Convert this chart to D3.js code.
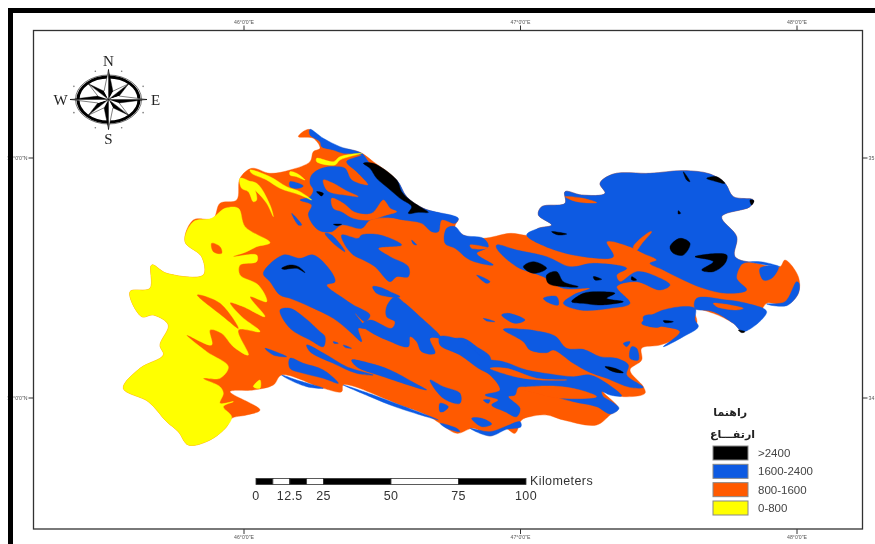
<!DOCTYPE html>
<html>
<head>
<meta charset="utf-8">
<script src="https://cdn.jsdelivr.net/npm/d3@7"></script>
<style>
  html, body { margin: 0; padding: 0; background: #fff; overflow: hidden; }
  svg { display: block; }
</style>
</head>
<body>
<script>
// ticks of the map frame
const lonTicks = [46, 47, 48];
const latTicks = [34, 35];
const lonLabels = ["46°0'0\"E", "47°0'0\"E", "48°0'0\"E"];
const latLabels = ["34°0'0\"N", "35°0'0\"N"];
const latLabelsRight = ["34", "35"]; // the sheet is cut off right after these

// legend
const classLabels = [">2400", "1600-2400", "800-1600", "0-800"];
const classColors = ["#000000", "#0a5ae2", "#ff5a00", "#ffff00"];

// scale bar
const barBreaks = [0, 6.25, 12.5, 18.75, 25, 50, 75, 100];
const barLabels = [0, 12.5, 25, 50, 75, 100];

// compass
const cardinals = [["N", 0], ["E", 90], ["S", 180], ["W", 270]];
const intercardinals = [45, 135, 225, 315];
const compassDots = [20, 64, 116, 160, 200, 244, 296, 340];

// elevation zones in grid units (gridX / gridY turn them into lon / lat)
const province = [[[597,28],[640,65],[700,85],[750,97],[790,125],[860,180],[890,230],[940,265],[1040,293],[1045,298],[1035,320],[1060,345],[1120,355],[1200,340],[1260,345],[1285,325],[1325,315],[1285,285],[1295,260],[1365,250],[1365,215],[1415,225],[1485,220],[1470,190],[1510,162],[1620,160],[1720,152],[1800,162],[1845,190],[1870,230],[1930,240],[1920,260],[1835,290],[1880,350],[1875,410],[1940,430],[2010,440],[2025,420],[2065,470],[2065,520],[2030,555],[1970,550],[1950,580],[1900,635],[1870,610],[1810,580],[1755,570],[1760,610],[1710,650],[1650,675],[1595,685],[1595,720],[1560,750],[1600,800],[1605,820],[1540,830],[1480,815],[1525,865],[1500,885],[1460,915],[1360,900],[1310,885],[1260,890],[1235,900],[1215,940],[1185,925],[1140,948],[1090,925],[1040,940],[990,910],[950,885],[870,855],[700,795],[695,815],[640,805],[515,765],[490,795],[430,810],[360,815],[450,870],[410,885],[365,895],[350,920],[300,960],[235,975],[205,935],[170,905],[115,845],[40,805],[90,745],[160,705],[150,675],[175,615],[130,585],[95,590],[60,515],[120,505],[125,435],[170,460],[280,465],[275,410],[225,365],[250,300],[310,295],[330,250],[380,240],[390,175],[425,145],[480,160],[540,150],[600,125],[610,95],[630,85],[610,55],[565,50]]];

const zone1600 = [
  [[600,28],[640,55],[690,80],[755,100],[780,130],[860,180],[890,230],[940,265],[1045,295],[1035,310],[995,300],[985,335],[965,335],[935,310],[880,300],[840,293],[780,300],[755,325],[695,315],[665,335],[625,330],[595,285],[605,255],[570,240],[600,230],[610,210],[600,190],[605,165],[635,145],[680,140],[705,145],[725,180],[775,195],[740,155],[710,125],[755,105],[700,100],[670,90],[635,80],[630,65],[600,45]],
  [[540,185],[580,198],[565,205],[540,200]],
  [[695,345],[745,355],[755,345],[810,345],[875,375],[805,385],[840,410],[895,440],[895,470],[860,470],[840,485],[795,440],[760,420],[730,405],[705,375]],
  [[645,340],[665,345],[705,395],[670,370]],
  [[545,280],[575,315],[565,315]],
  [[460,460],[520,405],[570,415],[610,405],[660,450],[675,485],[650,495],[700,535],[730,555],[780,585],[765,605],[735,580],[765,625],[745,625],[755,665],[720,635],[670,595],[600,560],[540,535],[510,525],[480,485]],
  [[540,565],[580,590],[630,635],[645,650],[640,680],[600,660],[540,625],[510,570]],
  [[788,500],[810,502],[840,515],[870,530],[835,530],[800,520]],
  [[830,560],[855,530],[885,550],[930,590],[980,635],[1000,655],[1060,655],[1100,680],[1140,710],[1140,740],[1080,690],[1010,660],[960,655],[975,700],[935,695],[920,665],[900,650],[895,680],[830,660],[780,635],[755,615],[780,600],[845,625],[855,605],[830,590]],
  [[465,685],[530,710],[490,705]],
  [[590,675],[650,705],[710,740],[790,765],[740,760],[670,730],[600,695]],
  [[725,720],[780,730],[840,750],[915,790],[950,810],[820,770],[740,740]],
  [[670,665],[685,670],[672,670]],
  [[700,675],[725,685],[705,682]],
  [[540,715],[580,730],[640,750],[685,790],[640,775],[580,760],[540,745]],
  [[515,765],[560,780],[640,805],[590,800],[530,775]],
  [[700,795],[790,825],[870,855],[950,885],[985,900],[860,862],[780,830]],
  [[960,780],[1000,800],[1050,820],[1050,850],[1000,835]],
  [[1010,325],[1035,320],[1060,345],[1120,355],[1135,380],[1100,400],[1150,435],[1080,420],[1035,385],[1005,370]],
  [[1100,465],[1140,485],[1130,490]],
  [[905,360],[920,375],[910,372]],
  [[1250,345],[1285,325],[1325,315],[1285,285],[1295,260],[1365,250],[1365,215],[1415,225],[1485,220],[1470,190],[1510,162],[1620,160],[1720,152],[1800,162],[1845,190],[1870,230],[1930,240],[1920,260],[1835,290],[1880,350],[1875,410],[1940,430],[2010,440],[1950,425],[1900,430],[1890,440],[1880,475],[1910,510],[1850,520],[1780,505],[1720,480],[1660,450],[1620,430],[1640,420],[1600,400],[1560,380],[1490,365],[1510,410],[1420,410],[1320,385]],
  [[1950,445],[2005,440],[1985,475],[1960,480]],
  [[1160,375],[1220,390],[1310,410],[1380,440],[1450,430],[1550,445],[1520,465],[1530,485],[1580,455],[1640,470],[1680,495],[1650,510],[1580,485],[1520,500],[1560,550],[1500,565],[1410,570],[1360,550],[1390,525],[1440,505],[1360,505],[1300,470],[1220,440],[1160,385]],
  [[1300,535],[1340,530],[1345,555],[1310,545]],
  [[1175,585],[1195,580],[1245,600],[1215,610]],
  [[1120,595],[1155,605],[1130,603]],
  [[1180,628],[1240,628],[1275,632],[1335,648],[1370,685],[1420,688],[1470,710],[1520,715],[1555,735],[1550,765],[1600,802],[1560,802],[1490,775],[1435,755],[1390,730],[1330,690],[1310,698],[1260,690],[1240,665]],
  [[990,650],[1035,655],[1080,680],[1125,715],[1180,725],[1250,750],[1320,762],[1390,770],[1440,765],[1490,790],[1535,828],[1500,825],[1475,815],[1480,830],[1505,845],[1527,865],[1502,882],[1460,860],[1390,845],[1345,832],[1320,815],[1270,805],[1225,802],[1215,825],[1195,830],[1230,865],[1220,890],[1185,875],[1145,855],[1165,840],[1125,825],[1170,810],[1140,765],[1105,745],[1050,705],[990,675]],
  [[990,850],[1015,860],[1000,875],[990,875]],
  [[1085,895],[1115,895],[1145,912],[1115,920]],
  [[1120,840],[1140,840],[1135,850]],
  [[990,910],[1040,925],[1050,935],[1010,925]],
  [[1080,925],[1140,935],[1185,920],[1230,905],[1233,920],[1190,928],[1140,948]],
  [[1595,610],[1660,570],[1755,565],[1755,600],[1765,620],[1720,650],[1660,680],[1710,635],[1660,620],[1620,620]],
  [[1600,590],[1630,585],[1650,600],[1650,620],[1610,615]],
  [[1760,535],[1850,540],[1910,550],[1970,575],[1900,635],[1870,610],[1810,575],[1755,565]],
  [[2060,485],[2067,490],[2065,520],[2030,557],[1970,552],[2025,545]],
  [[1540,670],[1560,665],[1550,680]],
  [[1565,680],[1580,685],[1585,720],[1560,715]]
];

const zone0 = [
  [[250,305],[305,295],[345,265],[385,265],[405,320],[480,368],[440,380],[410,395],[370,410],[440,405],[440,425],[390,435],[390,465],[445,495],[470,545],[420,530],[465,590],[400,560],[360,548],[395,590],[450,635],[385,630],[415,705],[370,680],[335,640],[300,630],[305,675],[230,645],[290,695],[355,740],[330,775],[280,775],[330,800],[340,820],[330,850],[370,845],[340,860],[365,890],[350,920],[300,960],[235,975],[205,935],[170,905],[115,845],[40,805],[90,745],[160,705],[150,675],[175,615],[130,585],[95,590],[60,515],[120,505],[125,435],[170,460],[280,465],[275,410],[225,365]],
  [[390,175],[425,190],[440,240],[430,245],[415,215],[395,205]],
  [[405,185],[440,190],[480,255],[490,290],[470,250],[440,215]],
  [[420,150],[480,170],[530,200],[570,215],[605,240],[570,225],[510,205],[470,180],[425,160]],
  [[540,155],[560,160],[585,180],[560,170],[540,165]],
  [[620,115],[670,125],[690,110],[755,100],[690,120],[675,135],[620,125]],
  [[430,800],[450,780],[450,805]]
];

// 800-1600 patches lying inside the other zones
const zone800 = [
  [[640,180],[670,190],[705,210],[745,230],[705,225],[670,220],[650,210]],
  [[665,235],[700,250],[735,277],[785,280],[820,240],[830,250],[840,265],[860,275],[830,285],[780,300],[730,295],[695,275],[670,265]],
  [[1570,380],[1620,335],[1625,335],[1600,365],[1575,395]],
  [[1365,230],[1420,235],[1460,248],[1400,245]],
  [[1080,375],[1140,385],[1085,385]],
  [[1810,550],[1900,565],[1880,570],[1820,560]],
  [[1140,745],[1190,745],[1280,775],[1370,780],[1290,780],[1215,770]],
  [[1230,805],[1330,798],[1410,810],[1460,830],[1350,835],[1280,820]],
  [[262,525],[330,550],[385,625],[340,590]],
  [[305,370],[330,380],[335,400],[310,395]]
];

const zone2400 = [
  [[760,130],[790,130],[860,180],[875,215],[900,240],[930,260],[955,277],[925,277],[895,280],[905,260],[870,235],[835,205],[800,175],[780,145]],
  [[515,445],[540,435],[565,440],[585,458],[560,445],[520,448]],
  [[620,215],[640,220],[635,228]],
  [[670,313],[695,313],[682,317]],
  [[1240,440],[1270,425],[1310,445],[1270,460]],
  [[1310,465],[1340,455],[1360,485],[1405,500],[1360,500],[1315,490]],
  [[1385,545],[1420,520],[1460,515],[1515,520],[1490,535],[1540,545],[1470,555],[1420,550]],
  [[1680,380],[1710,355],[1740,370],[1720,405],[1690,400]],
  [[1755,410],[1850,405],[1845,430],[1810,455],[1775,450],[1810,425]],
  [[1790,175],[1820,170],[1845,190],[1820,185]],
  [[1920,240],[1932,242],[1925,255]],
  [[1325,335],[1370,342],[1345,345]],
  [[1450,470],[1475,478],[1455,480]],
  [[1565,470],[1580,480],[1565,480]],
  [[1660,602],[1690,605],[1665,608]],
  [[1885,630],[1905,635],[1895,638]],
  [[1705,272],[1712,280],[1705,282]],
  [[1720,155],[1740,185],[1730,180]],
  [[1485,740],[1515,745],[1540,758],[1510,755]]
];

const w = 875;
const h = 544;

const x = d3.scaleLinear().domain([46, 48]).range([244, 797]);
const y = d3.scaleLinear().domain([34, 35]).range([398, 158]);
const gridX = d3.scaleLinear().domain([402, 1231.5]).range([46, 47]);
const gridY = d3.scaleLinear().domain([834, 114]).range([34, 35]);
const km = d3.scaleLinear().domain([0, 100]).range([256, 526]);
const legendRow = d3.scaleBand().domain(classLabels).range([446, 515]).paddingInner(0.236);

const svg = d3.select("body").append("svg").attr("width", w).attr("height", h);

// the source is a soft, scaled up screenshot
svg.append("defs").append("filter").attr("id", "soft")
  .append("feGaussianBlur").attr("stdDeviation", 0.5);

const page = svg.append("g").attr("filter", "url(#soft)");

const outline = d3.line()
  .x(d => x(gridX(d[0])))
  .y(d => y(gridY(d[1])))
  .curve(d3.curveCatmullRomClosed.alpha(0.5));

function drawZone(polys, color) {
  page.append("g").selectAll("path").data(polys).enter().append("path")
    .attr("d", outline)
    .attr("fill", color)
    .attr("stroke", color)
    .attr("stroke-width", 0.4);
}

drawZone(province, classColors[2]);
drawZone(zone1600, classColors[1]);
drawZone(zone0, classColors[3]);
drawZone(zone800, classColors[2]);
drawZone(zone2400, classColors[0]);

// map frame and graticule ticks
const frame = { left: 33.5, right: 862.5, top: 30.5, bottom: 529 };
page.append("rect")
  .attr("x", frame.left).attr("y", frame.top)
  .attr("width", frame.right - frame.left).attr("height", frame.bottom - frame.top)
  .attr("fill", "none").attr("stroke", "#333").attr("stroke-width", 1.3);

const tickStyle = sel => sel.attr("stroke", "#333").attr("stroke-width", 1);
const labelStyle = sel => sel
  .attr("font-family", "Liberation Sans, Arial, sans-serif")
  .attr("font-size", 5.2).attr("fill", "#555");

lonTicks.forEach((lon, i) => {
  page.append("line").attr("x1", x(lon)).attr("x2", x(lon)).attr("y1", frame.top - 5).attr("y2", frame.top).call(tickStyle);
  page.append("line").attr("x1", x(lon)).attr("x2", x(lon)).attr("y1", frame.bottom).attr("y2", frame.bottom + 5).call(tickStyle);
  page.append("text").attr("x", x(lon)).attr("y", 24).attr("text-anchor", "middle").text(lonLabels[i]).call(labelStyle);
  page.append("text").attr("x", x(lon)).attr("y", 539).attr("text-anchor", "middle").text(lonLabels[i]).call(labelStyle);
});

latTicks.forEach((lat, i) => {
  page.append("line").attr("x1", frame.left - 5).attr("x2", frame.left).attr("y1", y(lat)).attr("y2", y(lat)).call(tickStyle);
  page.append("line").attr("x1", frame.right).attr("x2", frame.right + 5).attr("y1", y(lat)).attr("y2", y(lat)).call(tickStyle);
  page.append("text").attr("x", frame.left - 6).attr("y", y(lat) + 2).attr("text-anchor", "end").text(latLabels[i]).call(labelStyle);
  page.append("text").attr("x", frame.right + 6).attr("y", y(lat) + 2).text(latLabelsRight[i]).call(labelStyle);
});

// heavy black border of the screenshot, covers the cut off labels
page.append("rect").attr("x", 8).attr("y", 8).attr("width", w - 8).attr("height", 5).attr("fill", "#000");
page.append("rect").attr("x", 8).attr("y", 8).attr("width", 5).attr("height", h - 8).attr("fill", "#000");

// compass
const cx = 108.5, cy = 99.5;
const rx = d3.scaleLinear().domain([0, 1]).range([0, 38.5]);
const ry = d3.scaleLinear().domain([0, 1]).range([0, 30]);
const rad = b => (b - 90) * Math.PI / 180;
const pt = (b, r) => [cx + rx(r) * Math.cos(rad(b)), cy + ry(r) * Math.sin(rad(b))];
const compass = page.append("g");

compass.append("ellipse").attr("cx", cx).attr("cy", cy).attr("rx", 33).attr("ry", 24.5)
  .attr("fill", "#fff").attr("stroke", "#333").attr("stroke-width", 0.7);
compass.append("ellipse").attr("cx", cx).attr("cy", cy).attr("rx", 30.5).attr("ry", 22.5)
  .attr("fill", "#fff").attr("stroke", "#000").attr("stroke-width", 3);

compassDots.forEach(b => {
  const p = pt(b, 1);
  compass.append("circle").attr("cx", p[0]).attr("cy", p[1]).attr("r", 0.8).attr("fill", "#777");
});

function drawPoint(b, r, waist) {
  const tip = pt(b, r);
  const left = pt(b - 22.5, waist);
  const right = pt(b + 22.5, waist);
  const c = [cx, cy];
  compass.append("path").attr("d", d3.line()([c, tip, right])).attr("fill", "#000").attr("stroke", "#000").attr("stroke-width", 0.4);
  compass.append("path").attr("d", d3.line()([c, tip, left])).attr("fill", "#fff").attr("stroke", "#000").attr("stroke-width", 0.5);
}
intercardinals.forEach(b => drawPoint(b, 0.74, 0.3));
cardinals.forEach(c => drawPoint(c[1], 1, 0.3));

const letterPos = { N: [0, -39], E: [47, 0], S: [0, 39], W: [-48, 0] };
cardinals.forEach(c => {
  compass.append("text")
    .attr("x", cx + letterPos[c[0]][0]).attr("y", cy + letterPos[c[0]][1])
    .attr("text-anchor", "middle").attr("dominant-baseline", "central")
    .attr("font-family", "Liberation Serif, serif").attr("font-size", 15).attr("fill", "#222")
    .text(c[0]);
});

// scale bar
const bar = page.append("g");
bar.selectAll("rect").data(d3.pairs(barBreaks)).enter().append("rect")
  .attr("x", d => km(d[0])).attr("y", 478.5)
  .attr("width", d => km(d[1]) - km(d[0])).attr("height", 6)
  .attr("fill", (d, i) => i % 2 ? "#fff" : "#000")
  .attr("stroke", "#333").attr("stroke-width", 0.8);
bar.selectAll("text.km").data(barLabels).enter().append("text").attr("class", "km")
  .attr("x", d => km(d)).attr("y", 499.5)
  .attr("text-anchor", "middle")
  .attr("font-family", "Liberation Sans, Arial, sans-serif").attr("font-size", 12.5).attr("letter-spacing", 0.4).attr("fill", "#333")
  .text(d => d);
bar.append("text").attr("x", 530).attr("y", 485)
  .attr("font-family", "Liberation Sans, Arial, sans-serif").attr("font-size", 12.5).attr("letter-spacing", 0.4).attr("fill", "#333")
  .text("Kilometers");

// legend
const legend = page.append("g").attr("id", "legend");
legend.append("text").attr("x", 747).attr("y", 416)
  .attr("font-family", "DejaVu Sans, sans-serif").attr("font-weight", "bold").attr("font-size", 11).attr("fill", "#222").attr("direction", "rtl")
  .text("راهنما");
legend.append("text").attr("x", 755).attr("y", 438)
  .attr("font-family", "DejaVu Sans, sans-serif").attr("font-weight", "bold").attr("font-size", 11).attr("fill", "#222").attr("direction", "rtl")
  .text("ارتفـــاع");
legend.selectAll("rect").data(classLabels).enter().append("rect")
  .attr("x", 713).attr("y", d => legendRow(d))
  .attr("width", 35).attr("height", legendRow.bandwidth())
  .attr("fill", (d, i) => classColors[i])
  .attr("stroke", "#888").attr("stroke-width", 1);
legend.selectAll("text.cls").data(classLabels).enter().append("text").attr("class", "cls")
  .attr("x", 758).attr("y", d => legendRow(d) + legendRow.bandwidth() / 2 + 4)
  .attr("font-family", "Liberation Sans, Arial, sans-serif").attr("font-size", 11.5).attr("fill", "#444")
  .text(d => d);
</script>
</body>
</html>
